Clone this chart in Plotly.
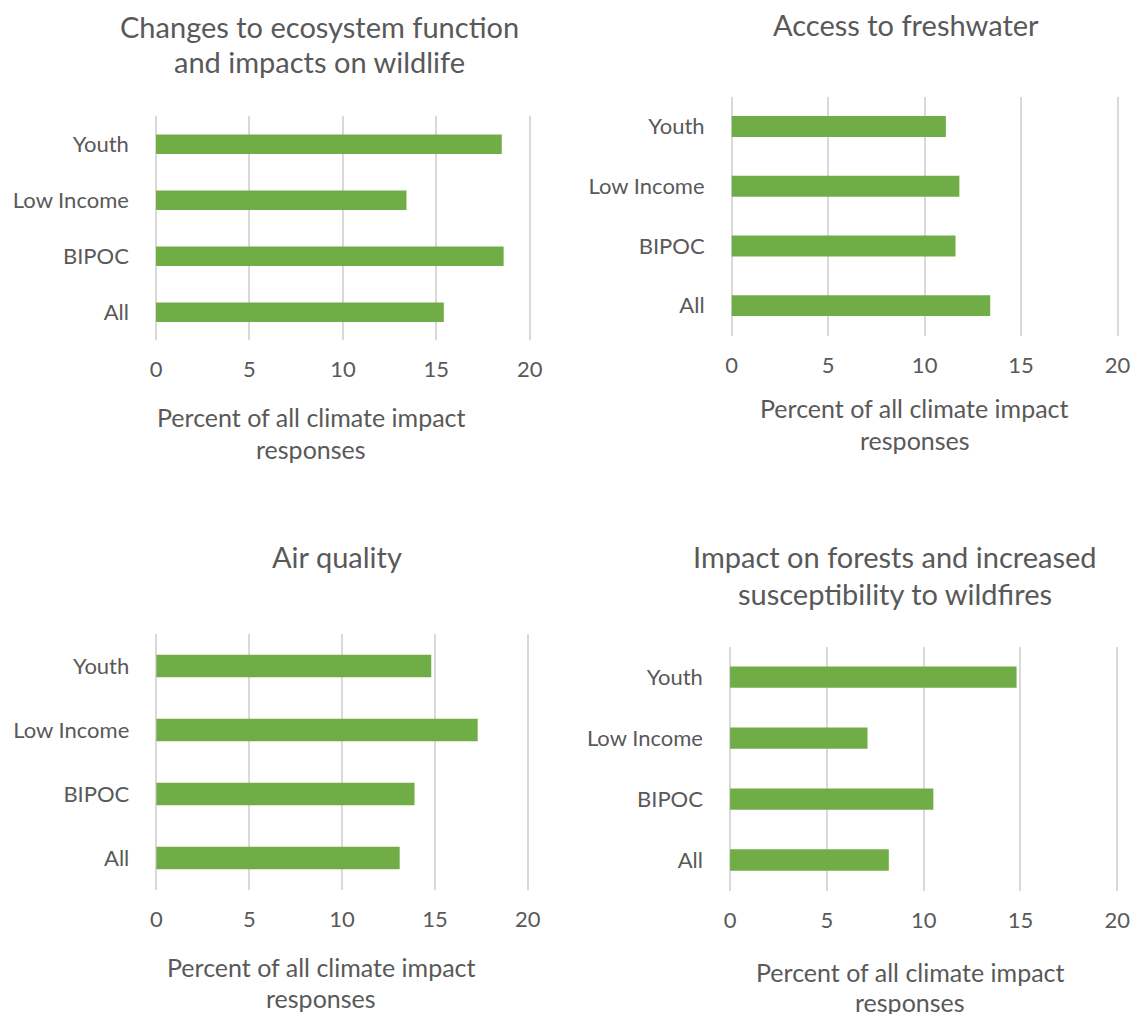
import plotly.graph_objects as go

# ---------------- data ----------------
categories = ["All", "BIPOC", "Low Income", "Youth"]
ecosystem_wildlife = [15.4, 18.6, 13.4, 18.5]
freshwater_access = [13.4, 11.6, 11.8, 11.1]
air_quality = [13.1, 13.9, 17.3, 14.8]
forests_wildfires = [8.2, 10.5, 7.1, 14.8]

panel_titles = [
    ["Changes to ecosystem function", "and impacts on wildlife"],
    ["Access to freshwater"],
    ["Air quality"],
    ["Impact on forests and increased", "susceptibility to wildfires"],
]
x_tick_values = [0, 5, 10, 15, 20]
x_axis_title = ["Percent of all climate impact", "responses"]

# ---------------- styling / layout ----------------
W, H = 1145, 1014
FONT = "Lato"
TEXT = "#595959"
GRID = "#D9D9D9"
BAR = "#70AD47"
PAD = 0.06  # small range padding so the 0 and 20 gridlines are drawn

# plot areas in pixels: (x0, x1, y0_top, y1_bottom)
areas = [
    (153.3, 532.7, 116.3, 340.3),
    (737.7, 1129.3, 96.7, 335.5),
    (153.7, 530.7, 634.0, 890.0),
    (736.0, 1129.0, 646.7, 890.5),
]
# title line centres (x, [y per line])
title_pos = [
    (319.5, [26.5, 61.5]),
    (915.0, [24.5]),
    (336.7, [556.3]),
    (903.0, [556.7, 593.0]),
]
# axis title line centres
axtitle_pos = [
    (311.0, [417.0, 449.0]),
    (923.5, [408.0, 440.0]),
    (321.0, [967.0, 998.0]),
    (919.0, [971.5, 1002.0]),
]

series = [ecosystem_wildlife, freshwater_access, air_quality, forests_wildfires]

fig = go.Figure()
annotations = []


def px(x):
    return x / W


def py(y):
    return 1 - y / H


for i, vals in enumerate(series):
    n = i + 1
    xa = "x" if n == 1 else f"x{n}"
    ya = "y" if n == 1 else f"y{n}"
    fig.add_trace(go.Bar(
        x=vals, y=categories, orientation="h",
        marker=dict(color=BAR, line=dict(width=0)),
        width=0.35, xaxis=xa, yaxis=ya, showlegend=False,
        hoverinfo="x+y",
    ))
    x0, x1, y0, y1 = areas[i]
    scale = (x1 - x0) / 20.0
    x0p = x0 - PAD * scale
    x1p = x1 + PAD * scale
    xkey = "xaxis" if n == 1 else f"xaxis{n}"
    ykey = "yaxis" if n == 1 else f"yaxis{n}"
    fig.update_layout(**{
        xkey: dict(
            domain=[px(x0p), px(x1p)], anchor=ya, range=[-PAD, 20 + PAD],
            tickvals=x_tick_values, ticktext=[str(v) for v in x_tick_values],
            showgrid=True, gridcolor=GRID, gridwidth=1.6,
            zeroline=False, showline=False, ticks="",
            tickfont=dict(family=FONT, size=22, color=TEXT),
            ticklabelstandoff=14, fixedrange=True,
        ),
        ykey: dict(
            domain=[py(y1), py(y0)], anchor=xa,
            categoryorder="array", categoryarray=categories,
            range=[-0.5, 3.5], showgrid=False, zeroline=False,
            showline=False, ticks="",
            tickfont=dict(family=FONT, size=22, color=TEXT),
            ticklabelstandoff=25, fixedrange=True,
        ),
    })
    tx, tys = title_pos[i]
    for line, ty in zip(panel_titles[i], tys):
        annotations.append(dict(
            text=line, x=px(tx), y=py(ty), xref="paper", yref="paper",
            xanchor="center", yanchor="middle", showarrow=False,
            font=dict(family=FONT, size=29, color=TEXT),
        ))
    ax, ays = axtitle_pos[i]
    for line, ay in zip(x_axis_title, ays):
        annotations.append(dict(
            text=line, x=px(ax), y=py(ay), xref="paper", yref="paper",
            xanchor="center", yanchor="middle", showarrow=False,
            font=dict(family=FONT, size=25, color=TEXT),
        ))

fig.update_layout(
    width=W, height=H,
    margin=dict(l=0, r=0, t=0, b=0),
    paper_bgcolor="white", plot_bgcolor="white",
    annotations=annotations,
)

fig.write_html(
    "out.html",
    post_script="document.body.style.margin='0';document.body.style.padding='0';document.body.style.overflow='hidden';",
)
